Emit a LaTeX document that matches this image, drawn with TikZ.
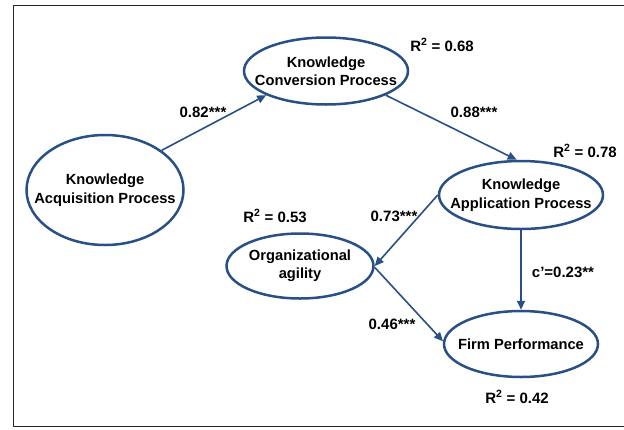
\documentclass[tikz,border=0pt]{standalone}
\usepackage{fontspec}
\setmainfont{Liberation Sans}
\usetikzlibrary{shapes.geometric,arrows.meta}
\definecolor{pathblue}{RGB}{40,80,135}

\begin{document}
\begin{tikzpicture}[x=1pt,y=-1pt,
  construct/.style={ellipse,draw=pathblue,line width=2.5pt,inner sep=0pt},
  inside/.style={align=center,font=\fontsize{14.7}{18.4}\selectfont\bfseries},
  path/.style={draw=pathblue,line width=1.6pt,-{Triangle[length=9pt,width=8pt]}},
  coef/.style={font=\fontsize{15}{18}\selectfont\bfseries,inner sep=0pt}]
\useasboundingbox (0,0) rectangle (624,429);
\clip (0,0) rectangle (624,429);
\draw[line width=1pt,black!85] (13,5) rectangle (630,426);
\node[construct,minimum width=157pt,minimum height=110pt,
  label={[inside]center:Knowledge\\Acquisition Process}] (kap) at (105,190) {};
\node[construct,minimum width=164pt,minimum height=67pt,
  label={[inside]center:Knowledge\\Conversion Process}] (kcp) at (326,71) {};
\node[construct,minimum width=164pt,minimum height=68pt,
  label={[inside]center:Knowledge\\Application Process}] (kapp) at (521,195) {};
\node[construct,minimum width=147pt,minimum height=65pt,
  label={[inside]center:Organizational\\agility}] (oa) at (300,266) {};
\node[construct,minimum width=154pt,minimum height=66pt,
  label={[inside]center:Firm Performance}] (fp) at (521,344) {};
\draw[path] (kap.35) -- (kcp.202);
\draw[path] (kcp.338) -- (kapp.97);
\draw[path] (kapp.west) -- (oa.east);
\draw[path] (oa.-1) -- (fp.178);
\draw[path] (kapp.south) -- (fp.north);
\node[coef] (r2kcp) at (442,45) {R\textsuperscript{2} = 0.68};
\node[coef] (b1) at (203,112) {0.82***};
\node[coef] (b2) at (474,112) {0.88***};
\node[coef] (r2kapp) at (585,151) {R\textsuperscript{2} = 0.78};
\node[coef] (r2oa) at (275,216) {R\textsuperscript{2} = 0.53};
\node[coef] (b3) at (394,216) {0.73***};
\node[coef] (b5) at (563,272) {c'=0.23**};
\node[coef] (b4) at (392,324) {0.46***};
\node[coef] (r2fp) at (517,397) {R\textsuperscript{2} = 0.42};
\end{tikzpicture}
\end{document}
